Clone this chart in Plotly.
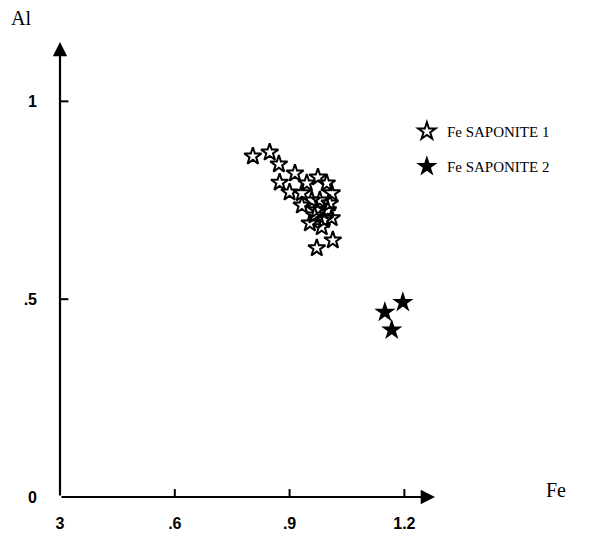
import plotly.graph_objects as go

# Fe SAPONITE 1 (open stars)
fe1 = [0.804, 0.848, 0.872, 0.874, 0.914, 0.900, 0.932, 0.945, 0.974, 0.997, 1.010,
       0.979, 0.932, 1.005, 0.971, 1.000, 0.953, 1.010, 0.984, 1.013, 0.971, 0.958, 0.965, 0.990]
al1 = [0.861, 0.871, 0.841, 0.795, 0.818, 0.770, 0.768, 0.793, 0.808, 0.793, 0.768,
       0.750, 0.737, 0.742, 0.725, 0.725, 0.692, 0.705, 0.682, 0.649, 0.629, 0.750, 0.712, 0.700]
# Fe SAPONITE 2 (filled stars)
fe2 = [1.196, 1.149, 1.167]
al2 = [0.492, 0.467, 0.422]

x_ticks = [0.3, 0.6, 0.9, 1.2]
x_ticktext = ["3", ".6", ".9", "1.2"]
y_ticks = [0, 0.5, 1]
y_ticktext = ["0", ".5", "1"]

X0, X1 = 0.3, 1.28
Y0, Y1 = 0.0, 1.15

fig = go.Figure()
fig.add_trace(go.Scatter(x=fe1, y=al1, mode="markers", name="Fe SAPONITE 1",
                         marker=dict(symbol="star-open", size=13, color="black",
                                     line=dict(width=2, color="black")),
                         legend="legend"))
fig.add_trace(go.Scatter(x=fe2, y=al2, mode="markers", name="Fe SAPONITE 2",
                         marker=dict(symbol="star", size=16, color="black",
                                     line=dict(width=0)),
                         legend="legend2"))

# axis lines with arrows
fig.add_annotation(x=X1, y=Y0, ax=X0, ay=Y0, xref="x", yref="y", axref="x", ayref="y",
                   showarrow=True, arrowhead=2, arrowsize=1.3, arrowwidth=2.2,
                   arrowcolor="black", text="")
fig.add_annotation(x=X0, y=Y1, ax=X0, ay=Y0, xref="x", yref="y", axref="x", ayref="y",
                   showarrow=True, arrowhead=2, arrowsize=1.3, arrowwidth=2.2,
                   arrowcolor="black", text="")

# tick marks crossing the axes
for xv in x_ticks[1:]:
    fig.add_shape(type="line", x0=xv, x1=xv, y0=-0.02, y1=0.02, xref="x", yref="y",
                  line=dict(color="black", width=2))
for yv in y_ticks[1:]:
    fig.add_shape(type="line", x0=0.278, x1=0.322, y0=yv, y1=yv, xref="x", yref="y",
                  line=dict(color="black", width=2))

fig.add_annotation(x=-0.135, y=1.053, xref="paper", yref="paper", text="Al", showarrow=False,
                   font=dict(family="Liberation Serif", size=20, color="black"),
                   xanchor="left", yanchor="middle")
fig.add_annotation(x=1.29, y=0.015, xref="paper", yref="paper", text="Fe", showarrow=False,
                   font=dict(family="Liberation Serif", size=20, color="black"),
                   xanchor="left", yanchor="middle")

fig.update_layout(
    width=597, height=528,
    margin=dict(l=52, r=170, t=34, b=39, autoexpand=False),
    paper_bgcolor="white", plot_bgcolor="white",
    showlegend=True,
    legend=dict(x=0.925, y=0.803, xanchor="left", yanchor="middle",
                font=dict(family="Liberation Serif", size=15, color="black"),
                bgcolor="rgba(0,0,0,0)"),
    legend2=dict(x=0.925, y=0.726, xanchor="left", yanchor="middle",
                 font=dict(family="Liberation Serif", size=15, color="black"),
                 bgcolor="rgba(0,0,0,0)"),
    xaxis=dict(range=[X0, X1], showgrid=False, zeroline=False, showline=False,
               automargin=False,
               tickvals=x_ticks, ticktext=x_ticktext, ticks="", ticklabelstandoff=15,
               tickfont=dict(family="Liberation Sans", size=16, color="black", weight="bold")),
    yaxis=dict(range=[Y0, Y1], showgrid=False, zeroline=False, showline=False,
               automargin=False,
               tickvals=y_ticks, ticktext=y_ticktext, ticks="", ticklabelstandoff=22,
               tickfont=dict(family="Liberation Sans", size=16, color="black", weight="bold")),
)

fig.write_html("out.html")
